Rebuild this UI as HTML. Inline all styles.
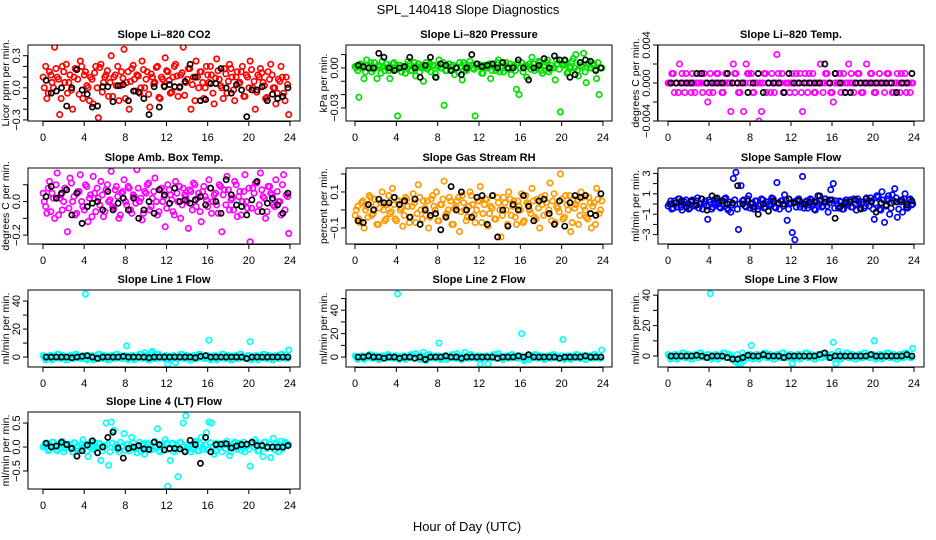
<!DOCTYPE html>
<html><head><meta charset="utf-8"><style>
html,body{margin:0;padding:0;background:#fff;}
svg{display:block;font-family:"Liberation Sans",Arial,sans-serif;}
</style></head><body>
<svg id="chart" width="936" height="540" viewBox="0 0 936 540" xmlns="http://www.w3.org/2000/svg">
<text x="468" y="14" text-anchor="middle" font-size="13">SPL_140418  Slope Diagnostics</text>
<text x="467" y="531" text-anchor="middle" font-size="13">Hour of Day (UTC)</text>
</svg>
<script>
// ---- data ----
const xTicks=[0,4,8,12,16,20,24];
const co2Values=[0.0,-0.1,0.15,0.05,0.38,0.1,-0.25,0.2,0.05,-0.05,0.12,-0.2,0.18,0.08,0.25,-0.1,0.15,0.0,0.1,-0.15,0.2,-0.28,0.22,0.05,0.12,-0.08,0.3,0.1,0.02,-0.12,0.15,0.36,0.05,-0.2,0.18,0.08,0.12,-0.05,0.25,0.0,0.15,-0.18,0.1,0.05,0.2,-0.1,0.08,0.28,0.15,-0.05,0.1,0.22,-0.08,0.12,0.38,0.05,0.18,-0.2,0.1,0.25,0.0,0.15,-0.1,0.2,0.05,0.12,-0.15,0.27,0.08,0.0,0.18,-0.05,0.22,0.1,-0.12,0.15,0.05,0.2,-0.08,0.1,0.25,0.0,-0.2,0.12,0.18,0.05,-0.1,0.15,0.22,0.0,-0.15,0.08,0.2,-0.05,0.1,-0.25];
const co2Values2=[0.1,0.2,-0.05,0.12,0.0,0.18,0.08,-0.1,0.15,0.22,0.05,-0.02,0.1,0.17,-0.06,0.2,0.12,0.02,-0.12,0.08,0.14,0.0,0.19,-0.04,0.1,0.16,0.05,-0.08,0.12,0.2,0.02,0.09,-0.1,0.15,0.06,0.21,-0.03,0.11,0.0,0.17,0.08,-0.06,0.13,0.04,0.19,-0.09,0.1,0.02,0.16,0.07,-0.04,0.2,0.11,0.0,0.14,-0.07,0.08,0.18,0.03,-0.12,0.1,0.15,0.05,0.0,0.12,0.2,-0.05,0.09,0.16,0.02,-0.1,0.13,0.06,0.18,-0.02,0.1,0.04,0.15,-0.08,0.12,0.0,0.17,0.06,-0.04,0.1,0.14,0.02,-0.09,0.08,0.12,0.0,-0.05,0.06,0.1,-0.12,0.03];
const co2Black=[0.07,-0.05,-0.03,0.0,-0.17,0.0,0.17,-0.02,-0.06,-0.18,-0.17,0.01,0.01,-0.13,0.02,0.03,-0.12,-0.03,-0.04,-0.1,-0.25,0.01,-0.18,0.01,0.03,0.01,0.01,0.06,0.22,0.1,-0.12,-0.11,0.04,0.04,0.18,0.0,-0.05,0.03,-0.02,-0.27,-0.02,-0.02,0.01,-0.12,-0.06,-0.1,-0.08,0.0];
const presValues=[0.0,-0.022,0.002,-0.008,0.006,0.0,-0.003,0.004,-0.008,0.001,0.005,-0.002,0.0,-0.008,0.003,-0.001,-0.036,0.002,0.0,-0.004,0.005,-0.002,0.001,-0.006,0.003,0.0,-0.010,0.004,0.001,-0.003,0.002,-0.007,0.006,0.0,-0.028,-0.002,0.003,0.001,-0.005,0.0,0.004,-0.009,0.002,-0.001,0.005,0.0,-0.036,0.003,0.002,-0.004,0.001,0.0,-0.008,0.003,-0.002,0.006,0.001,-0.003,0.004,0.0,-0.005,0.002,-0.016,-0.02,0.004,0.001,-0.007,0.003,0.008,-0.002,0.0,0.004,-0.004,0.002,0.006,-0.001,0.0,-0.009,0.003,-0.033,0.002,0.005,-0.003,0.0,0.007,0.010,-0.006,0.002,0.011,-0.011,0.004,0.0,0.003,-0.008,-0.02,0.0];
const presValues2=[0.001,-0.002,0.003,0.0,-0.003,0.002,0.004,-0.001,0.0,0.002,-0.004,0.001,0.003,-0.002,0.0,0.004,-0.001,0.002,-0.003,0.001,0.0,0.003,-0.002,0.004,0.001,-0.003,0.002,0.0,-0.001,0.003,0.002,-0.004,0.001,0.0,0.004,-0.002,0.003,-0.001,0.002,0.0,-0.003,0.001,0.004,-0.002,0.0,0.002,-0.001,0.003,0.001,-0.004,0.002,0.0,0.003,-0.002,0.001,0.004,-0.003,0.0,0.002,-0.001,0.003,0.001,-0.002,0.004,0.0,-0.003,0.002,0.001,-0.001,0.003,0.0,0.005,-0.002,0.001,0.004,-0.003,0.002,0.0,0.006,-0.001,0.003,0.002,-0.004,0.001,0.005,0.0,-0.002,0.004,0.001,-0.003,0.003,0.0,0.002,-0.001,0.004,0.0];
const presBlack=[0.002,0.001,0.0,0.0,0.011,0.008,0.0,-0.002,0.0,0.001,0.008,0.0,-0.007,0.002,0.008,-0.007,0.003,0.002,-0.002,0.0,-0.005,0.0,0.01,0.003,0.001,0.002,0.003,0.0,0.004,0.0,0.0,0.006,0.0,-0.009,0.0,0.002,0.007,0.0,0.009,0.006,0.006,-0.007,-0.005,0.004,0.006,0.005,-0.002,0.0];
const tempValues=[0,0.001,-0.001,0,0.002,0.001,-0.001,0,0,0.001,-0.001,0,0.001,-0.001,0,-0.002,0.001,-0.001,0,0.001,0,-0.001,0.001,0,-0.003,0.002,0.001,-0.001,0,-0.003,0.002,0.001,0.001,-0.001,0,-0.004,-0.003,0.001,-0.001,0,0.001,-0.001,0.003,0,0.001,-0.001,0,-0.001,0.001,-0.001,0,0.001,-0.003,0.001,-0.001,0,0.001,-0.001,0,0.002,-0.001,0.001,0,-0.001,-0.002,0.001,0,-0.001,0.001,0,0.002,0.001,-0.001,0,0.001,-0.001,0,0.002,0,0.001,-0.001,0,0.001,0,-0.001,0.001,0,-0.001,0,0.001,-0.001,0,0.001,0,-0.001,0];
const tempValues2=[0,0,0.001,0,-0.001,0,0,0.001,0,-0.001,0,0,0,0,0.001,0,-0.001,0,0,0.001,0,-0.001,0,0,0,0,0.001,0,-0.001,0,0,0.001,0,-0.001,0,0,0,0,0.001,0,-0.001,0,0,0.001,0,-0.001,0,0,0,0,0.001,0,-0.001,0,0,0.001,0,-0.001,0,0,0,0,0.001,0,-0.001,0,0,0.001,0,-0.001,0,0,0,0,0.001,0,-0.001,0,0,0.001,0,-0.001,0,0,0,0,0.001,0,-0.001,0,0,0.001,0,-0.001,0,0];
const tempBlack=[0,0,0,0,0,0.001,0.001,0,0,0,0,0.001,0,0,0,-0.001,0,0.001,-0.001,0,0,0,-0.001,0.001,0,0,0,0,0,0,0.002,0,0.001,0,-0.001,-0.001,0,0,0,0,0,0,0,0,-0.001,0,0,0.001];
const ambValues=[0.0,-0.07,0.12,0.05,-0.1,0.17,0.02,-0.05,0.08,-0.18,0.14,0.0,-0.08,0.06,0.16,-0.03,0.1,-0.12,0.04,0.15,-0.06,0.02,0.12,-0.09,0.07,0.0,0.18,-0.04,0.09,-0.1,0.05,0.13,-0.02,0.08,-0.07,0.03,0.19,0.0,-0.11,0.06,0.1,-0.05,0.02,0.14,-0.08,0.07,0.0,-0.15,0.1,0.04,-0.06,0.12,0.0,-0.1,0.08,0.03,-0.16,0.06,0.11,-0.03,0.05,-0.12,0.09,0.01,0.13,-0.07,0.04,-0.02,0.1,-0.18,0.07,0.15,-0.05,0.02,0.12,-0.09,0.06,0.0,0.16,-0.04,-0.24,0.08,0.11,-0.06,0.17,0.03,-0.1,0.09,0.05,-0.02,0.13,0.0,-0.08,0.16,0.04,-0.19];
const ambValues2=[0.05,-0.03,0.08,-0.06,0.02,0.1,-0.08,0.04,0.0,0.07,-0.04,0.11,0.03,-0.07,0.06,0.0,-0.05,0.09,0.02,-0.09,0.05,0.08,-0.02,0.04,-0.06,0.1,0.01,-0.03,0.07,0.03,-0.08,0.06,0.0,0.09,-0.05,0.04,-0.01,0.08,0.02,-0.07,0.05,0.11,-0.03,0.06,0.0,-0.06,0.08,0.03,-0.04,0.07,0.01,-0.08,0.05,0.09,-0.02,0.04,0.0,0.07,-0.05,0.1,0.02,-0.06,0.06,0.03,-0.03,0.08,0.0,0.05,-0.07,0.09,0.04,-0.02,0.07,0.01,-0.05,0.1,0.03,-0.08,0.06,0.0,0.08,-0.04,0.05,0.11,-0.02,0.07,0.02,-0.06,0.09,0.04,-0.03,0.06,0.0,0.1,-0.05,0.03];
const ambBlack=[0.03,0.09,0.02,0.05,0.07,-0.08,0.05,-0.13,-0.03,-0.01,0.0,-0.05,0.06,-0.05,-0.01,0.02,-0.05,0.02,-0.1,-0.05,0.0,-0.07,0.07,0.04,-0.01,0.08,0.0,0.01,-0.01,0.01,0.03,-0.02,0.08,0.0,-0.07,0.13,0.04,-0.02,-0.03,-0.08,0.01,0.12,-0.06,-0.01,0.02,-0.02,-0.07,0.05];
const rhValues=[0.0,-0.05,0.04,-0.1,0.02,0.08,-0.03,0.06,-0.08,0.01,0.1,-0.06,0.03,-0.02,0.12,-0.05,0.05,0.0,-0.09,0.07,0.02,-0.04,0.09,-0.07,0.14,0.0,0.05,-0.03,-0.1,0.06,0.02,0.1,-0.06,0.03,0.16,-0.02,0.07,-0.08,0.01,0.05,-0.12,0.08,0.0,-0.04,0.1,0.03,-0.07,0.05,0.13,-0.02,0.06,-0.09,0.02,0.08,-0.05,0.04,-0.15,0.07,0.0,0.1,-0.03,0.05,-0.08,0.02,0.09,-0.06,0.04,0.0,0.12,-0.04,0.06,-0.1,0.03,0.08,-0.02,0.15,0.05,-0.07,0.01,0.2,-0.05,0.08,0.0,-0.12,0.06,0.03,-0.08,0.1,0.02,-0.04,0.07,-0.1,0.04,0.12,-0.02,0.05];
const rhValues2=[-0.03,0.02,-0.07,0.05,0.0,-0.04,0.07,-0.02,0.03,-0.08,0.04,0.0,-0.05,0.08,-0.01,0.03,-0.06,0.05,0.01,-0.03,0.06,-0.07,0.02,0.04,-0.02,0.07,-0.05,0.01,0.05,-0.04,0.08,0.0,-0.06,0.03,0.06,-0.03,0.0,0.05,-0.08,0.02,0.07,-0.01,0.04,-0.06,0.02,0.08,-0.03,0.0,0.05,-0.07,0.03,0.06,-0.02,0.01,-0.05,0.07,0.0,-0.03,0.04,-0.08,0.06,0.02,-0.04,0.05,0.0,-0.07,0.08,0.03,-0.02,0.05,-0.05,0.01,0.07,-0.03,0.04,0.0,-0.06,0.09,0.02,-0.01,0.06,-0.04,0.03,0.08,-0.07,0.01,0.05,-0.03,0.07,0.0,-0.05,0.04,0.02,-0.08,0.06,0.0];
const rhBlack=[-0.06,-0.07,0.03,0.0,0.06,0.04,0.04,0.07,0.03,0.05,-0.04,0.06,-0.08,0.0,-0.03,-0.02,-0.11,-0.04,0.13,0.0,0.1,0.0,-0.04,0.07,0.08,-0.08,0.08,-0.15,0.0,-0.09,0.03,0.0,0.08,0.02,-0.06,0.05,0.06,-0.02,-0.08,0.05,-0.09,0.04,0.08,0.07,0.08,-0.02,-0.03,0.09];
const sampleValues=[0.0,-0.5,0.3,-0.3,0.5,-0.6,0.2,0.0,-0.4,0.4,-0.2,0.6,0.0,-0.5,0.3,-1.5,0.2,-0.3,0.5,0.0,-0.4,0.3,0.6,-0.6,-0.8,2.5,3.1,-2.5,1.8,0.4,-0.3,0.8,0.0,-0.5,0.3,-0.2,0.5,-0.4,0.2,0.0,0.6,-0.3,2.1,-0.5,0.3,0.9,-1.6,0.0,-2.8,-3.5,0.4,-0.3,2.7,0.2,-0.4,0.5,0.0,-0.6,0.8,0.3,-0.2,0.5,-0.8,1.4,2.0,0.3,-0.4,0.2,-0.5,0.4,0.0,-0.3,0.5,-0.6,0.2,0.0,-0.4,0.6,-0.2,0.3,-1.5,0.8,-0.5,1.2,-1.8,0.5,-1.0,0.9,1.5,-1.3,0.3,-0.8,1.0,-0.4,0.5,0.0];
const sampleValues2=[-0.2,0.3,-0.4,0.1,0.5,-0.3,0.0,0.4,-0.5,0.2,-0.1,0.3,-0.4,0.5,0.0,-0.2,0.4,-0.5,0.1,0.3,-0.3,0.0,0.5,-0.4,0.2,-0.1,0.4,-0.5,0.0,0.3,-0.2,0.5,-0.4,0.1,0.3,-0.5,0.0,0.4,-0.3,0.2,-0.1,0.5,-0.4,0.0,0.3,-0.2,0.4,-0.5,0.1,0.2,-0.3,0.5,0.0,-0.4,0.3,-0.1,0.4,-0.5,0.2,0.0,-0.3,0.5,-0.2,0.1,0.4,-0.4,0.0,0.3,-0.5,0.2,-0.1,0.4,-0.3,0.0,0.5,-0.4,0.2,-0.2,0.3,0.6,-0.5,0.1,0.7,-0.6,0.4,-0.2,0.8,-0.4,0.3,0.6,-0.5,0.2,0.5,-0.3,0.4,-0.1];
const sampleBlack=[0.0,0.1,0.3,-0.3,0.3,-0.1,0.5,-0.6,0.8,0.6,0.3,0.0,0.1,1.8,0.0,0.3,-0.3,-1.0,0.0,-0.7,0.3,0.1,0.0,0.5,0.1,0.3,0.0,0.2,0.2,0.8,0.2,0.4,-1.4,-0.3,0.1,0.2,0.4,-0.5,0.5,0.2,-0.8,0.1,-0.1,0.1,0.2,0.4,-0.1,0.3];
const line1Values=[0,-1,1,-2,0,2,-1,1,0,-2,1,-1,2,0,-1,1,45,-1,1,-2,0,2,-1,1,0,-2,1,-1,2,0,-1,1,8,-1,1,-2,0,2,-1,3,0,-2,4,-1,2,0,-1,1,-5,-1,1,-4,0,2,-1,1,0,-2,1,-1,2,0,-1,1,12,-1,1,-2,0,2,-1,1,0,-2,1,-1,2,0,-1,1,11,-1,1,-2,0,2,-1,1,0,-2,1,-1,2,0,-1,5];
const line1Values2=[1,-2,0,1,-1,0,2,-1,1,-2,0,1,-1,2,0,-1,1,-2,0,1,-1,0,2,-1,1,-2,0,1,-1,2,0,-1,1,-2,0,1,-1,0,2,-1,1,-2,3,1,-1,2,0,-1,1,-2,0,1,-1,0,2,-1,1,-2,0,1,-1,2,0,-1,1,-2,0,1,-1,0,2,-1,1,-2,0,1,-1,2,0,-1,1,-2,0,1,-1,0,2,-1,1,-2,0,1,-1,2,0,-1];
const line1Black=[0,0,0,0,0,-0.5,0,0.5,1,0,-1,0,0,0,0,0.5,0,0,0,0,-0.5,0,0,0,0,0,0,0,0,-0.5,0.5,1,0,0,0,0,0,0,0,-1,0,0,0,0,0,0,0,0];
const line2Values=[0,-1,1,-2,0,2,-1,1,0,-2,1,-1,2,0,-1,1,54,-1,1,-2,0,2,-1,3,0,-2,4,-3,2,0,-1,1,12,-2,1,-2,0,2,-1,3,0,-2,4,-1,2,0,-1,1,-6,-1,1,-6,0,2,-1,3,0,-2,1,-1,2,0,-1,1,20,-3,1,-2,0,2,-1,1,0,-2,1,-1,2,0,-1,1,15,-1,1,-2,0,2,-1,1,0,-2,1,-1,2,0,-1,6];
const line2Values2=[1,-2,0,1,-1,0,2,-1,1,-2,0,1,-1,2,0,-1,1,-2,0,1,-1,0,2,-1,1,-2,0,1,-1,2,0,-1,1,-2,0,1,-1,0,2,-1,1,-2,0,1,-1,2,0,-1,1,-2,0,1,-1,0,2,-1,1,-2,0,1,-1,2,0,-1,1,-2,0,1,-1,0,2,-1,1,-2,0,1,-1,2,0,-1,1,-2,0,1,-1,0,2,-1,1,-2,0,1,-1,2,0,-1];
const line2Black=[0,0,1,0,0,-1,0,0,-1,0,0,-1,0,-2,0,0,0,1,0,0,-1,0,0,0,0,0,0,-1,0,0,0,1,0,2,0,0,0,0,0,-1,0,0,0,0,1,0,0,0];
const line3Values=[0,-1,1,-2,0,2,-1,1,0,-2,1,-1,2,0,-1,1,41,-1,1,-2,0,2,-1,1,0,-2,-4,-5,-5,-3,-1,1,7,-1,1,-2,0,2,-1,1,0,-2,1,-1,2,0,-1,1,-5,-1,1,-2,0,2,-1,1,0,-2,1,-1,2,0,-1,1,9,-5,3,-2,0,2,-1,1,0,-2,1,-1,2,0,-1,1,10,-1,1,-2,0,2,-1,1,0,-2,1,-1,2,0,-1,5];
const line3Values2=[1,-2,0,1,-1,0,2,-1,1,-2,0,1,-1,2,0,-1,1,-2,0,1,-1,0,2,-1,1,-2,-3,1,-1,2,0,-1,1,-2,0,1,-1,0,2,-1,1,-2,0,1,-1,2,0,-1,1,-2,0,1,-1,0,2,-1,1,-2,0,1,-1,2,0,-1,1,-2,0,1,-1,0,2,-1,1,-2,0,1,-1,2,0,-1,1,-2,0,1,-1,0,2,-1,1,-2,0,1,-1,2,0,-1];
const line3Black=[0,0,0,0,0,0.5,0,-1,0,0,0,-1,-2,-2,-1,0.5,0,0,1,0,0,0,-1,0,0,0,0,0,0,1,2,-1,0,0,0,0,0,0,0,1,0,0,0,0,0,0,1,0];
const line4Values=[0.03,0.08,-0.05,0.1,0.0,-0.08,0.06,0.12,-0.03,0.05,0.0,-0.1,0.08,0.02,-0.06,0.15,0.05,-0.2,0.1,-0.05,0.0,0.08,-0.28,0.03,0.5,-0.38,0.52,0.35,0.05,-0.1,0.0,0.28,0.06,-0.08,0.2,0.0,-0.12,0.1,0.03,-0.15,0.08,0.0,-0.05,0.12,0.38,-0.1,0.05,0.15,-0.82,-0.28,0.08,-0.05,-0.62,0.1,0.5,0.65,0.0,-0.1,0.06,0.12,-0.08,0.2,-0.05,0.3,0.52,0.5,-0.15,0.08,0.0,-0.1,0.05,0.12,-0.18,0.03,0.1,-0.05,0.08,0.0,-0.1,0.06,-0.4,0.1,0.15,-0.08,0.05,-0.2,0.1,0.0,-0.22,0.18,0.05,-0.1,0.12,0.0,0.08,0.05];
const line4Values2=[0.0,0.05,-0.08,0.03,0.1,-0.05,0.0,0.08,-0.1,0.04,0.06,-0.03,0.09,0.0,-0.07,0.05,0.02,-0.09,0.06,0.1,-0.04,0.0,0.07,-0.08,0.03,0.05,-0.1,0.08,0.0,-0.05,0.1,0.02,-0.07,0.06,0.0,0.09,-0.04,0.03,-0.09,0.07,0.0,0.05,-0.06,0.1,0.02,-0.08,0.04,0.0,0.08,-0.05,0.06,-0.1,0.03,0.09,0.0,-0.07,0.05,0.02,-0.04,0.1,-0.08,0.06,0.0,0.04,-0.06,0.09,0.02,-0.09,0.05,0.0,0.08,-0.04,0.03,-0.1,0.07,0.0,0.05,-0.07,0.1,0.02,-0.05,0.06,0.0,0.09,-0.08,0.04,0.1,-0.03,0.06,0.0,-0.06,0.08,0.03,-0.04,0.1,0.05];
const line4Black=[0.08,0.0,0.02,0.1,0.05,-0.03,-0.19,-0.08,0.04,0.13,-0.12,0.0,0.2,0.31,-0.02,-0.23,-0.03,0.0,0.03,-0.04,-0.05,0.1,0.05,-0.06,-0.03,-0.03,-0.04,-0.1,0.14,0.05,-0.34,0.2,-0.1,0.05,0.06,0.07,-0.02,0.02,0.05,0.06,0.1,0.03,0.03,0.0,0.0,0.0,0.0,0.03];

const panelTitles=["Slope Li\u2013820 CO2","Slope Li\u2013820 Pressure","Slope Li\u2013820 Temp.","Slope Amb. Box Temp.","Slope Gas Stream RH","Slope Sample Flow","Slope Line 1 Flow","Slope Line 2 Flow","Slope Line 3 Flow","Slope Line 4 (LT) Flow"];
const yTitles=["Licor ppm per min.","kPa per min.","degrees C per min.","degrees C per min.","percent per min.","ml/min per min.","ml/min per min.","ml/min per min.","ml/min per min.","ml/min per min."];
const yTickVals=[[-0.3,-0.2,-0.1,0,0.1,0.2,0.3],[-0.03,-0.02,-0.01,0,0.01],[-0.004,-0.002,0,0.002,0.004],[-0.2,-0.1,0,0.1],[-0.1,0,0.1,0.2],[-3,-2,-1,0,1,2,3],[0,10,20,30,40],[0,10,20,30,40,50],[0,10,20,30,40],[-0.5,0,0.5]];
const yTickLabels=[["\u22120.3","","","0.0","","","0.3"],["\u22120.03","","","0.00",""],["\u22120.004","","0.000","","0.004"],["\u22120.2","","0.0",""],["\u22120.1","","0.1",""],["\u22123","","\u22121","","1","","3"],["0","","20","","40"],["0","","20","","40",""],["0","","20","","40"],["\u22120.5","0.0","0.5"]];
const yDomains=[[-0.31,0.4],[-0.0398,0.0172],[-0.004,0.004],[-0.253,0.2],[-0.189,0.233],[-3.92,3.53],[-7.1,47.9],[-8.5,57.3],[-7.2,43.4],[-0.875,0.73]];
const seriesColored=[co2Values,presValues,tempValues,ambValues,rhValues,sampleValues,line1Values,line2Values,line3Values,line4Values];
const seriesColored2=[co2Values2,presValues2,tempValues2,ambValues2,rhValues2,sampleValues2,line1Values2,line2Values2,line3Values2,line4Values2];
const seriesBlack=[co2Black,presBlack,tempBlack,ambBlack,rhBlack,sampleBlack,line1Black,line2Black,line3Black,line4Black];
const colors=["#ff0000","#00e000","#ff00ff","#ff00ff","#ff9900","#0000ff","#00ffff","#00ffff","#00ffff","#00ffff"];

// ---- layout ----
const colBox=[[28,300,43,290],[346,612,355,603],[658,924,668,914]];
const rowBox=[[45,121],[168,244],[290,367],[412,489]];
const NS="http://www.w3.org/2000/svg";
const svg=document.getElementById('chart');
function mk(tag,attrs,parent){const e=document.createElementNS(NS,tag);for(const k in attrs)e.setAttribute(k,attrs[k]);(parent||svg).appendChild(e);return e;}

for(let p=0;p<10;p++){
  const c=colBox[p%3], r=rowBox[Math.floor(p/3)];
  const [L,R,x0,x24]=c,[T,B]=r;
  const dom=yDomains[p];
  const xs=h=>x0+(x24-x0)*h/24;
  const ys=v=>B-(v-dom[0])/(dom[1]-dom[0])*(B-T);
  const g=mk('g',{});
  
  
  const clip=mk('clipPath',{id:'clip'+p},g);
  mk('rect',{x:L,y:T,width:R-L,height:B-T},clip);
  const pts=mk('g',{'clip-path':'url(#clip'+p+')'},g);
  
  
  const cv2=seriesColored2[p];
  cv2.forEach((v,i)=>{
    const e=mk('circle',{cx:xs(24*(i+0.05)/cv2.length),cy:ys(v),r:2.7,fill:'none',stroke:colors[p],'stroke-width':1.7},pts);
    
    
  });
  const cv=seriesColored[p];
  cv.forEach((v,i)=>{
    const e=mk('circle',{cx:xs(24*(i+0.5)/cv.length),cy:ys(v),r:2.7,fill:'none',stroke:colors[p],'stroke-width':1.7},pts);
    
    
  });
  const bv=seriesBlack[p];
  bv.forEach((v,i)=>{
    const e=mk('circle',{cx:xs(24*(i+0.6)/bv.length),cy:ys(v),r:2.6,fill:'none',stroke:'#000','stroke-width':1.7},pts);
    
    
  });
  const box=mk('rect',{x:L,y:T,width:R-L,height:B-T,fill:'none',stroke:'#000','stroke-width':1},g);
  
  
  const t=mk('text',{x:(L+R)/2,y:T-7,'text-anchor':'middle','font-size':11,'font-weight':'bold'},g);
  t.textContent=panelTitles[p];
  
  
  const xa=mk('g',{},g);
  
  
  mk('line',{x1:xs(0),x2:xs(24),y1:B+0.5,y2:B+0.5,stroke:'#000'},xa);
  xTicks.forEach(h=>{
    mk('line',{x1:xs(h),x2:xs(h),y1:B,y2:B+5,stroke:'#000'},xa);
    const l=mk('text',{x:xs(h),y:B+20,'text-anchor':'middle','font-size':11},xa);
    l.textContent=h;
    
    
  });
  const ya=mk('g',{},g);
  
  
  const tv=yTickVals[p];
  mk('line',{x1:L-0.5,x2:L-0.5,y1:ys(tv[0]),y2:ys(tv[tv.length-1]),stroke:'#000'},ya);
  tv.forEach((v,i)=>{
    const y=ys(v);
    mk('line',{x1:L-5,x2:L,y1:y,y2:y,stroke:'#000'},ya);
    if(yTickLabels[p][i]){
      const l=mk('text',{x:L-8,y:y,'text-anchor':'middle','font-size':11,transform:'rotate(-90 '+(L-8)+' '+y+')'},ya);
      l.textContent=yTickLabels[p][i];
      
      
    }
  });
  const yl=mk('text',{x:L-19,y:(T+B)/2,'text-anchor':'middle','font-size':10.5,transform:'rotate(-90 '+(L-19)+' '+((T+B)/2)+')'},ya);
  yl.textContent=yTitles[p];
  
  
}
</script>
</body></html>
